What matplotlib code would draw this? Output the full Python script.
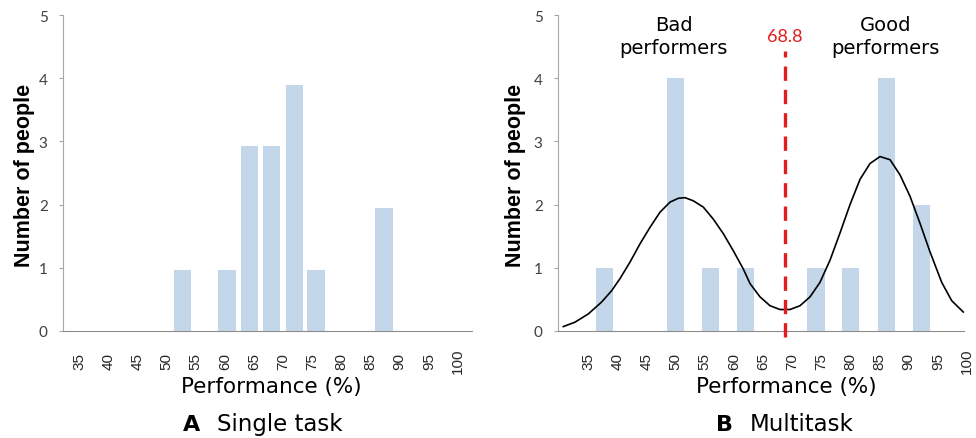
import matplotlib.pyplot as plt

# Panel A - single task (bar centre in %, number of people)
single_pos = [52.75, 60.4, 64.2, 68.05, 71.9, 75.65, 87.3]
single_counts = [0.97, 0.97, 2.92, 2.92, 3.9, 0.97, 1.95]

# Panel B - multitask
multi_pos = [37.85, 49.96, 56.0, 62.0, 74.1, 80.05, 86.2, 92.2]
multi_counts = [1, 4, 1, 1, 1, 1, 4, 2]

# fitted two-peak curve
fit_x = [30.76, 32.77, 35.05, 37.35, 39.07, 40.49, 42.20, 43.92, 45.63, 47.35,
         49.07, 50.49, 51.64, 53.06, 54.78, 56.49, 58.21, 59.92, 61.64, 62.79,
         64.50, 66.22, 67.93, 69.65, 71.36, 73.08, 74.79, 76.51, 78.22, 79.94,
         81.66, 83.37, 85.09, 86.81, 88.52, 90.24, 91.96, 93.67, 95.67, 97.38,
         99.37]
fit_y = [0.07, 0.14, 0.27, 0.46, 0.64, 0.83, 1.09, 1.38, 1.64, 1.88,
         2.04, 2.10, 2.11, 2.06, 1.96, 1.77, 1.54, 1.27, 0.98, 0.75,
         0.54, 0.40, 0.34, 0.34, 0.40, 0.54, 0.77, 1.12, 1.55, 2.00,
         2.40, 2.65, 2.76, 2.71, 2.47, 2.13, 1.70, 1.25, 0.77, 0.48,
         0.30]

threshold = 68.8
xticks = list(range(35, 101, 5))
yticks = [0, 1, 2, 3, 4, 5]

bar_color = '#c4d6ea'
W, H = 976, 439


def style_axes(ax, xlim):
    ax.set_xlim(*xlim)
    ax.set_ylim(0, 5)
    ax.spines['top'].set_visible(False)
    ax.spines['right'].set_visible(False)
    ax.spines['left'].set_color('#a6a6a6')
    ax.spines['bottom'].set_color('#8c8c8c')
    ax.set_xticks(xticks)
    ax.set_xticklabels([str(t) for t in xticks], rotation=90, va='center',
                       fontsize=11, family='Liberation Sans', color='#262626')
    ax.tick_params(axis='x', length=0, pad=21)
    ax.set_yticks(yticks)
    ax.set_yticklabels([str(t) for t in yticks], fontsize=11, family='Lato',
                       color='#404040')
    ax.tick_params(axis='y', length=3, color='#a6a6a6', pad=8)


fig = plt.figure(figsize=(W / 100, H / 100), dpi=100)

# ---- A
axA = fig.add_axes([63 / W, 107 / H, 409 / W, 316 / H])
style_axes(axA, (32.26, 102.4))
axA.bar(single_pos, single_counts, width=2.95, color=bar_color, zorder=2)

# ---- B
axB = fig.add_axes([558 / W, 107 / H, 410.7 / W, 316 / H])
style_axes(axB, (29.85, 100.3))
axB.spines['bottom'].set_bounds(29.85, 99.5)
axB.bar(multi_pos, multi_counts, width=2.95, color=bar_color, zorder=2)
axB.plot(fit_x, fit_y, color='black', lw=1.2, zorder=3,
         solid_joinstyle='round')
axB.plot([threshold, threshold], [-0.1, 4.43], color='#e01e1e', lw=2.4,
         dashes=(4.3, 2.7), zorder=4, clip_on=False)
axB.text(threshold, 4.66, '68.8', color='#e01e1e', fontsize=13, family='Lato',
         ha='center', va='center')
axB.text(49.67, 4.67, 'Bad\nperformers', fontsize=14, ha='center',
         va='center', linespacing=1.3)
axB.text(86.0, 4.67, 'Good\nperformers', fontsize=14, ha='center',
         va='center', linespacing=1.3)

# axis labels
for cx in (25, 515):
    fig.text(cx / W, 1 - 175 / H, 'Number of people', rotation=90,
             ha='center', va='center', fontsize=15.5, fontweight='bold',
             family='Liberation Sans')
fig.text(271.5 / W, 1 - 387 / H, 'Performance (%)', ha='center', va='center',
         fontsize=15.5)
fig.text(786 / W, 1 - 387 / H, 'Performance (%)', ha='center', va='center',
         fontsize=15.5)

# panel captions
fig.text(200 / W, 1 - 425 / H, 'A', ha='right', va='center', fontsize=16,
         fontweight='bold')
fig.text(217 / W, 1 - 425 / H, 'Single task', ha='left', va='center',
         fontsize=16.5)
fig.text(733 / W, 1 - 425 / H, 'B', ha='right', va='center', fontsize=16,
         fontweight='bold')
fig.text(750 / W, 1 - 425 / H, 'Multitask', ha='left', va='center',
         fontsize=16.5)

fig.savefig('out.png', dpi=100)
